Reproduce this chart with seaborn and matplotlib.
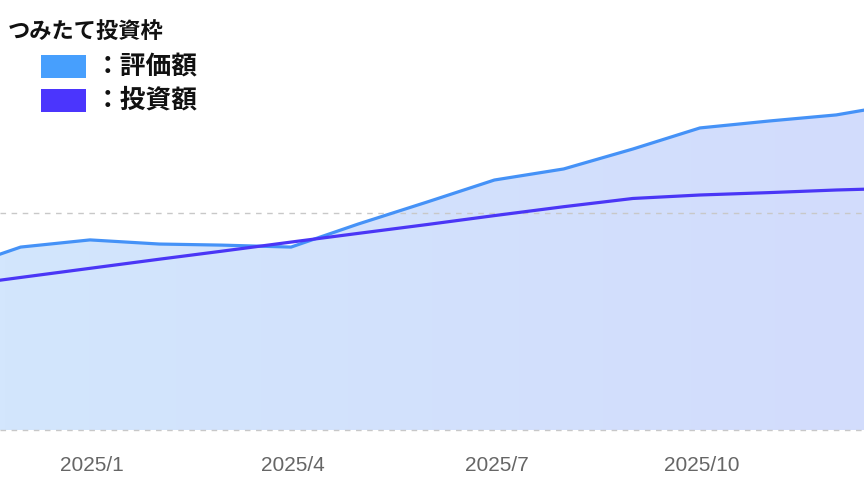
import numpy as np
import pandas as pd
import matplotlib
matplotlib.use("Agg")
import matplotlib.pyplot as plt
import matplotlib.dates as mdates
from matplotlib.colors import LinearSegmentedColormap
from matplotlib.patches import Rectangle
import seaborn as sns

# ---- data ----
dates = ["2024-10-31", "2024-11-30", "2024-12-31", "2025-01-31", "2025-02-28",
         "2025-03-31", "2025-04-30", "2025-05-31", "2025-06-30", "2025-07-31",
         "2025-08-31", "2025-09-30", "2025-10-31", "2025-11-30", "2025-12-31"]
valuation = [737000, 843000, 876000, 857000, 852000, 843000, 949000, 1051000,
             1152000, 1203000, 1295000, 1392000, 1424000, 1452000, 1507000]
invested = [662000, 703000, 745000, 787000, 824000, 866000, 906000, 947000,
            988000, 1029000, 1067000, 1083000, 1094000, 1106000, 1115000]
series_names = ["評価額", "投資額"]
legend_title = "つみたて投資枠"
tick_dates = ["2025-01-01", "2025-04-01", "2025-07-01", "2025-10-01"]
tick_labels = ["2025/1", "2025/4", "2025/7", "2025/10"]
grid_values = [0, 1000000]

colors = {"評価額": "#4592f7", "投資額": "#4a36f6"}
swatch_colors = {"評価額": "#479ffd", "投資額": "#4b35fd"}

df = pd.DataFrame({
    "date": pd.to_datetime(dates * 2),
    "value": valuation + invested,
    "series": [series_names[0]] * len(dates) + [series_names[1]] * len(dates),
})

sns.set_theme(style="white")
plt.rcParams["font.family"] = ["Noto Sans CJK JP", "DejaVu Sans"]

fig = plt.figure(figsize=(8.64, 5.0), dpi=100)
ax = fig.add_axes([0, 70 / 500, 1, 430 / 500])

xmin = pd.Timestamp("2024-11-20 18:00")
xmax = pd.Timestamp("2025-12-12 10:00")
ymax = 1981600

# gradient fill under valuation
poly = ax.fill_between(pd.to_datetime(dates), 0, valuation, color="none", lw=0)
cmap = LinearSegmentedColormap.from_list("g", ["#d3e6fd", "#d2dcfc"])
grad = np.linspace(0, 1, 256).reshape(1, -1)
im = ax.imshow(grad, extent=[mdates.date2num(xmin), mdates.date2num(xmax), 0, ymax],
               aspect="auto", cmap=cmap, zorder=1, interpolation="bilinear")
im.set_clip_path(poly.get_paths()[0], transform=ax.transData)

# gridlines
for g in grid_values:
    ax.axhline(g, color="#c8c8c8", lw=1.0, ls=(0, (4, 4)), zorder=2, clip_on=False)

sns.lineplot(data=df, x="date", y="value", hue="series", palette=colors,
             hue_order=series_names, linewidth=2.3, legend=False, ax=ax, zorder=3)

ax.set_xlim(xmin, xmax)
ax.set_ylim(0, ymax)
ax.set_xlabel("")
ax.set_ylabel("")
ax.set_yticks([])
ax.set_xticks(pd.to_datetime(tick_dates))
ax.set_xticklabels(tick_labels, fontsize=15, color="#666666",
                   family=["Liberation Sans", "DejaVu Sans"])
ax.tick_params(axis="x", length=0, pad=19)
for s in ax.spines.values():
    s.set_visible(False)
ax.set_facecolor("white")

# legend (manual)
fig.text(8 / 864, 1 - 31 / 500, legend_title, ha="left", va="center",
         fontsize=16, fontweight="bold", color="#111111")
for i, name in enumerate(series_names):
    yc = 66.5 + i * 34
    fig.patches.append(Rectangle((41 / 864, 1 - (yc + 11.5) / 500), 45 / 864, 23 / 500,
                                 transform=fig.transFigure, color=swatch_colors[name],
                                 lw=0))
    fig.text(95 / 864, 1 - yc / 500, "：" + name, ha="left", va="center",
             fontsize=18.5, fontweight="bold", color="#111111")

fig.savefig("out.png", dpi=100)
